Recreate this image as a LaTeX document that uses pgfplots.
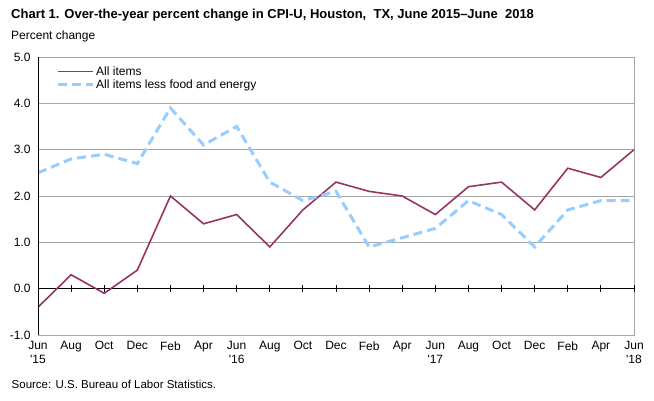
\documentclass[border=0pt]{standalone}
\usepackage{fontspec}
\setmainfont{Liberation Sans}
\usepackage{pgfplots}
\pgfplotsset{compat=1.18}
\definecolor{allitems}{HTML}{993366}
\definecolor{core}{HTML}{99CCFF}
\definecolor{gridgray}{HTML}{A6A6A6}

\begin{document}
\begin{tikzpicture}
\useasboundingbox (0,0) rectangle (654pt,400pt);
\node[anchor=base west, inner sep=0pt, font=\bfseries\fontsize{13}{15}\selectfont] at (11pt,381pt)
  {Chart 1. Over-the-year percent change in CPI-U, Houston,\ \ TX, June 2015--June\ \ 2018};
\node[anchor=base west, inner sep=0pt, font=\fontsize{12}{14}\selectfont] at (11pt,360pt) {Percent change};
\node[anchor=base west, inner sep=0pt, font=\fontsize{11.5}{13}\selectfont] at (11.5pt,12pt) {Source: U.S. Bureau of Labor Statistics.};
\begin{axis}[
  at={(38pt,65pt)}, anchor=south west,
  width=596pt, height=278pt, scale only axis,
  xmin=0, xmax=18, ymin=-1, ymax=5,
  ytick={-1,0,...,5},
  xtick={0,1,...,18},
  xticklabels={{Jun\\\textquotesingle15},Aug,Oct,Dec,Feb,Apr,{Jun\\\textquotesingle16},Aug,Oct,Dec,Feb,Apr,{Jun\\\textquotesingle17},Aug,Oct,Dec,Feb,Apr,{Jun\\\textquotesingle18}},
  xticklabel style={align=center, font=\fontsize{12}{14}\selectfont, anchor=north, yshift=-3pt},
  yticklabel style={font=\fontsize{12}{14}\selectfont, xshift=-4pt},
  /pgf/number format/assume math mode=true,
  yticklabel={\pgfmathprintnumber[fixed,fixed zerofill,precision=1]{\tick}},
  major tick length=0pt,
  ymajorgrids, grid style={gridgray, line width=0.8pt},
  axis line style={gridgray, line width=0.8pt},
  legend style={draw=none, fill=none, at={(0.026,0.979)}, anchor=north west,
    font=\fontsize{12}{13}\selectfont, row sep=0pt,
    nodes={inner sep=1.5pt}},
  legend cell align=left,
  legend image code/.code={\draw[#1] (0pt,0pt) -- (35pt,0pt);},
]
% zero line with tick marks
\addplot[black, line width=0.9pt, mark=|, mark size=3.5pt, mark options={line width=0.9pt}, forget plot]
  coordinates {(0,0)(1,0)(2,0)(3,0)(4,0)(5,0)(6,0)(7,0)(8,0)(9,0)(10,0)(11,0)(12,0)(13,0)(14,0)(15,0)(16,0)(17,0)(18,0)};
\addplot[allitems, line width=1.6pt] table {
x y
0 -0.4
1 0.3
2 -0.1
3 0.4
4 2.0
5 1.4
6 1.6
7 0.9
8 1.7
9 2.3
10 2.1
11 2.0
12 1.6
13 2.2
14 2.3
15 1.7
16 2.6
17 2.4
18 3.0
};
\addlegendentry{All items}
\addplot[core, line width=3pt, dash pattern=on 9pt off 5pt] table {
x y
0 2.5
1 2.8
2 2.9
3 2.7
4 3.9
5 3.1
6 3.5
7 2.3
8 1.9
9 2.1
10 0.9
11 1.1
12 1.3
13 1.9
14 1.6
15 0.9
16 1.7
17 1.9
18 1.9
};
\addlegendentry{All items less food and energy}
\draw[black, line width=0.9pt] (rel axis cs:0,0) -- (rel axis cs:0,1);
\end{axis}
\end{tikzpicture}
\end{document}
